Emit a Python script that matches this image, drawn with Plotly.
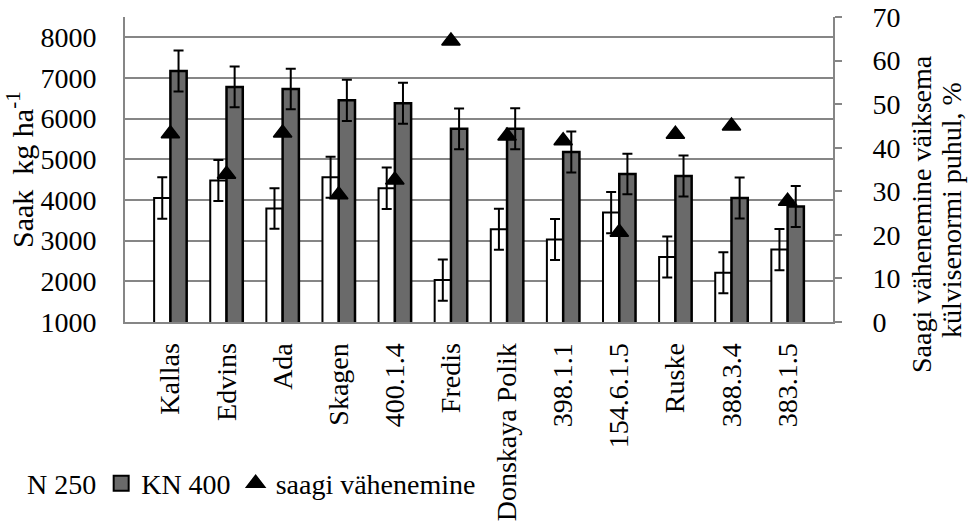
import plotly.graph_objects as go

categories = ["Kallas", "Edvins", "Ada", "Skagen", "400.1.4", "Fredis",
              "Donskaya Polik", "398.1.1", "154.6.1.5", "Ruske", "388.3.4", "383.1.5"]
n250 = [4050, 4480, 3790, 4560, 4290, 2030, 3280, 3030, 3690, 2600, 2210, 2780]
n250_err = [510, 505, 500, 505, 510, 505, 505, 505, 505, 505, 505, 505]
kn400 = [7170, 6780, 6730, 6450, 6380, 5750, 5750, 5180, 4640, 4590, 4050, 3840]
kn400_err = [505, 500, 500, 505, 505, 500, 505, 505, 500, 505, 505, 505]
reduction = [43.2, 33.9, 43.4, 29.2, 32.6, 64.5, 42.7, 41.6, 20.6, 43.1, 45.0, 27.7]
left_ticks = [1000, 2000, 3000, 4000, 5000, 6000, 7000, 8000]
right_ticks = [0, 10, 20, 30, 40, 50, 60, 70]

FONT = "Times New Roman, Liberation Serif, DejaVu Serif, serif"
FS = 28
AXIS_GRAY = "#868686"

fig = go.Figure()
fig.add_trace(go.Bar(
    x=categories, y=n250, name="N 250", showlegend=False,
    marker=dict(color="white", line=dict(color="black", width=2)),
    error_y=dict(type="data", array=n250_err, visible=True,
                 color="black", thickness=2, width=5),
))
fig.add_trace(go.Bar(
    x=categories, y=kn400, name="KN 400", showlegend=False,
    marker=dict(color="#6a6a6a", line=dict(color="black", width=2.5)),
    error_y=dict(type="data", array=kn400_err, visible=True,
                 color="black", thickness=2, width=5),
))
fig.add_trace(go.Scatter(
    x=categories, y=reduction, yaxis="y2", mode="markers",
    name="saagi vähenemine", showlegend=False,
    marker=dict(symbol="triangle-up", size=16, color="black",
                line=dict(color="black", width=1.5)),
))

# legend entries
fig.add_trace(go.Scatter(
    x=[None], y=[None], mode="markers", name="N 250",
    marker=dict(symbol="square", size=14, color="white",
                line=dict(color="white", width=0)),
))
fig.add_trace(go.Scatter(
    x=[None], y=[None], mode="markers", name="KN 400",
    marker=dict(symbol="square", size=15, color="#6a6a6a",
                line=dict(color="black", width=2)),
))
fig.add_trace(go.Scatter(
    x=[None], y=[None], mode="markers", name="saagi vähenemine",
    marker=dict(symbol="triangle-up", size=16, color="black",
                line=dict(color="black", width=1.5)),
))

fig.update_layout(
    width=974, height=526,
    margin=dict(l=125, r=141, t=17, b=204, autoexpand=False),
    paper_bgcolor="white", plot_bgcolor="white",
    font=dict(family=FONT, size=FS, color="black"),
    barmode="group", bargap=0.42, bargroupgap=0,
    xaxis=dict(
        type="category", tickangle=-90, showline=True, linecolor=AXIS_GRAY,
        linewidth=2, ticks="", showgrid=False, ticklabelstandoff=8,
        automargin=False, tickfont=dict(family=FONT, size=FS),
    ),
    yaxis=dict(
        range=[1000, 8500], tickvals=left_ticks, showline=True,
        linecolor=AXIS_GRAY, linewidth=2, showgrid=True,
        gridcolor=AXIS_GRAY, gridwidth=2, ticks="", zeroline=False,
        ticklabelstandoff=21, automargin=False,
        tickfont=dict(family=FONT, size=FS),
    ),
    yaxis2=dict(
        range=[0, 70], tickvals=right_ticks, overlaying="y", side="right",
        showline=True, linecolor=AXIS_GRAY, linewidth=2, showgrid=False,
        ticks="outside", ticklen=7, tickcolor=AXIS_GRAY, tickwidth=2,
        zeroline=False, ticklabelstandoff=25, automargin=False,
        tickfont=dict(family=FONT, size=FS),
    ),
    legend=dict(
        orientation="h", x=-0.195, xanchor="left", y=-0.53, yanchor="middle",
        font=dict(family=FONT, size=FS), bgcolor="rgba(0,0,0,0)",
        itemwidth=30, tracegroupgap=0,
    ),
    annotations=[
        dict(text="Saak\u00a0\u00a0kg\u00a0ha<sup>-1</sup>", xref="paper", yref="paper",
             x=(20 - 125) / 708, y=(322 - 170) / 305, xanchor="center",
             yanchor="middle", textangle=-90, showarrow=False,
             font=dict(family=FONT, size=30)),
        dict(text="Saagi vähenemine väiksema",
             xref="paper", yref="paper",
             x=(921 - 125) / 708, y=(322 - 214) / 305, xanchor="center",
             yanchor="middle", textangle=-90, showarrow=False,
             font=dict(family=FONT, size=FS)),
        dict(text="külvisenormi puhul, %",
             xref="paper", yref="paper",
             x=(951 - 125) / 708, y=(322 - 210) / 305, xanchor="center",
             yanchor="middle", textangle=-90, showarrow=False,
             font=dict(family=FONT, size=FS)),
    ],
)

fig.write_html("out.html", config={"displayModeBar": False},
               post_script="document.body.style.margin='0';")
